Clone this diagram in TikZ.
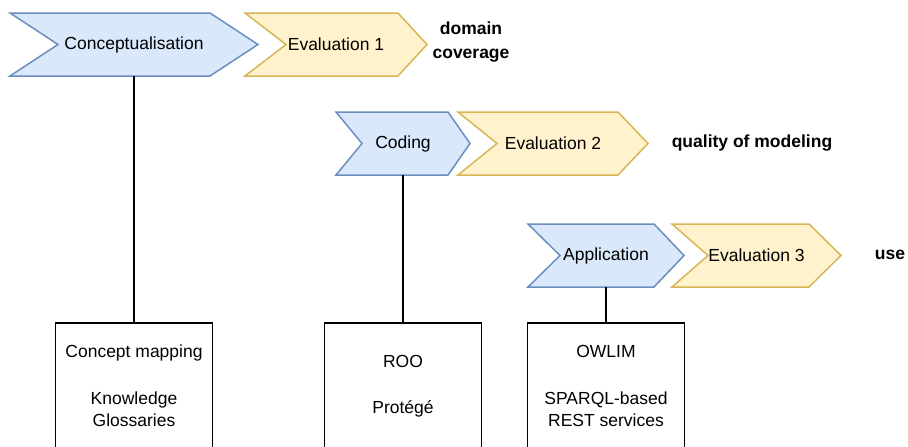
\documentclass[tikz,border=0pt]{standalone}
\usepackage{fontspec}
\setmainfont{Liberation Sans}

\definecolor{phaseFill}{HTML}{DAE8FC}
\definecolor{phaseLine}{HTML}{6C8EBF}
\definecolor{evalFill}{HTML}{FFF2CC}
\definecolor{evalLine}{HTML}{D6B656}

% A chevron-shaped step with a named label node spanning its body.
% #1 name, #2 left x, #3 notch x, #4 upper corner x, #5 tip x,
% #6 top y, #7 bottom y, #8 style, #9 text
\newcommand\chevronstep[9]{%
  \draw[#8] (#2,#6) -- (#4,#6) -- (#5,{(#6+#7)/2}) -- (#4,#7)
    -- (#2,#7) -- (#3,{(#6+#7)/2}) -- cycle;
  \node[steplabel, minimum width={(#5-#2)*1pt}, minimum height={(#7-#6)*1pt}]
    (#1) at ({(#2+#5)/2},{(#6+#7)/2}) {#9};
}

\begin{document}
\begin{tikzpicture}[x=1pt, y=-1pt,
  phase/.style={fill=phaseFill, draw=phaseLine, line width=1.5pt, line join=miter},
  evalstep/.style={fill=evalFill, draw=evalLine, line width=1.5pt, line join=miter},
  steplabel/.style={inner sep=0pt, font=\fontsize{17.5}{22}\selectfont},
  note/.style={inner sep=0pt, align=center, font=\fontsize{17.5}{24}\selectfont\bfseries},
  toolbox/.style={draw=black, line width=1.5pt, fill=white, inner sep=0pt,
    minimum width=157pt, minimum height=126pt, align=center,
    font=\fontsize{17.5}{22.5}\selectfont},
  link/.style={draw=black, line width=1.5pt}]

\useasboundingbox (0,0) rectangle (908,447);

% Process steps and their evaluations
\chevronstep{concept}{10}{58}{210}{258}{13}{76}{phase}{Conceptualisation}
\chevronstep{eval1}{245}{286}{398}{427}{13}{76}{evalstep}{Evaluation 1}

\chevronstep{coding}{336}{362}{448}{470}{112}{175}{phase}{Coding}
\chevronstep{eval2}{458}{497}{618}{648}{112}{175}{evalstep}{Evaluation 2}

\chevronstep{appl}{528}{560}{654}{684}{224}{287}{phase}{Application}
\chevronstep{eval3}{672}{708}{809}{841}{224}{287}{evalstep}{Evaluation 3}

% Evaluation criteria
\node[note] (crit1) at (471,42) {domain\\coverage};
\node[note] (crit2) at (752,143) {quality of modeling};
\node[note] (crit3) at (890,255) {use};

% Tools and techniques per step
\node[toolbox] (tools1) at (134,386) {Concept mapping\\[24pt]Knowledge\\Glossaries};
\node[toolbox] (tools2) at (403,386) {ROO\\[24pt]Protégé};
\node[toolbox] (tools3) at (606,386) {OWLIM\\[24pt]SPARQL-based\\REST services};

\draw[link] (concept.south) -- (tools1.north);
\draw[link] (coding.south) -- (tools2.north);
\draw[link] (appl.south) -- (tools3.north);
\end{tikzpicture}
\end{document}
